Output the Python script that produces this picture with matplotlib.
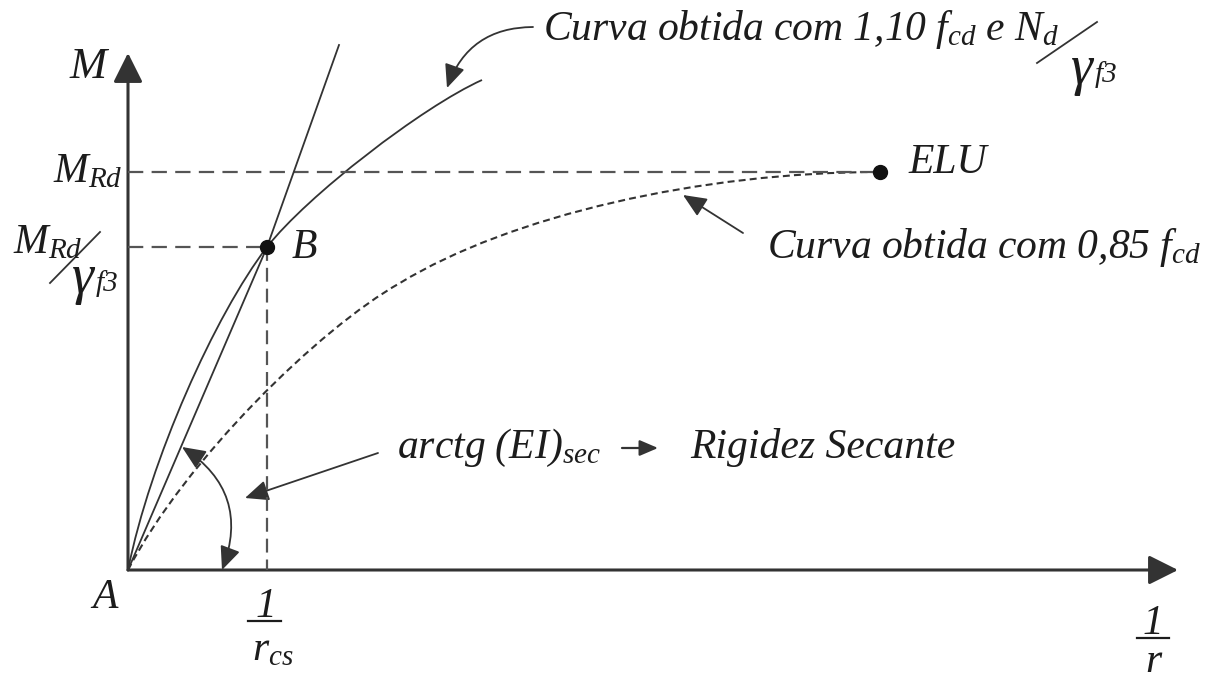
import matplotlib.pyplot as plt
from matplotlib.path import Path
from matplotlib.patches import PathPatch, FancyArrowPatch

# sketch coordinates (pixels, y grows downward)
origin = (128, 570)
x_axis_tip = 1178
y_axis_tip = 53
point_B = (267, 247)
point_ELU = (880, 172)
secant_line = [(128, 570), (267, 247), (339, 45)]

# Bezier control points: start, c1, c2, end, c1, c2, end
curve_110 = [(128, 570), (150, 460), (215, 315), (267, 247),
             (307, 196), (422, 107), (482, 80)]
curve_085 = [(128, 570), (185, 460), (320, 328), (400, 283),
             (510, 216), (700, 172), (880, 172)]

INK = '#1c1c1c'
LINE = '#333333'
GREY = '#555555'

plt.rcParams['mathtext.fontset'] = 'custom'
plt.rcParams['mathtext.it'] = 'Liberation Serif:italic'
plt.rcParams['mathtext.rm'] = 'Liberation Serif:italic'
plt.rcParams['mathtext.bf'] = 'Liberation Serif:bold:italic'
plt.rcParams['lines.scale_dashes'] = False

fig = plt.figure(figsize=(12.15, 6.82), dpi=100)
ax = fig.add_axes([0, 0, 1, 1])
ax.set_xlim(0, 1215)
ax.set_ylim(682, 0)
ax.axis('off')


def bezier(points, **kw):
    codes = [Path.MOVETO] + [Path.CURVE4] * (len(points) - 1)
    ax.add_patch(PathPatch(Path(points, codes), fill=False, **kw))


def arrow(p0, p1, style='-|>', rad=0.0, lw=1.3, scale=18):
    ax.add_patch(FancyArrowPatch(p0, p1, arrowstyle=style,
                                 connectionstyle=f'arc3,rad={rad}',
                                 mutation_scale=scale, lw=lw, color=LINE,
                                 shrinkA=0, shrinkB=0))


def label(x, y, s, size=30, ha='left', va='baseline'):
    ax.text(x, y, s, fontsize=size, family='Liberation Serif', style='italic',
            ha=ha, va=va, color=INK)


def gamma_f3(x, y):
    label(x, y, 'γ', size=40)
    label(x + 24, y - 2, 'f3', size=21)


# axes with arrow heads
ax0, ay0 = origin
arrow((ax0, ay0), (x_axis_tip, ay0), style='-|>,head_length=0.9,head_width=0.45',
      lw=2.2, scale=20)
arrow((ax0, ay0), (ax0, y_axis_tip), style='-|>,head_length=0.9,head_width=0.45',
      lw=2.2, scale=20)

# reference dashed lines
ax.plot([ax0, point_ELU[0]], [point_ELU[1], point_ELU[1]], color=GREY, lw=1.6,
        dashes=(11, 6))
ax.plot([ax0, point_B[0]], [point_B[1], point_B[1]], color=GREY, lw=1.6,
        dashes=(11, 6))
ax.plot([point_B[0], point_B[0]], [point_B[1], ay0], color=GREY, lw=1.6,
        dashes=(10, 5))

# curves
bezier(curve_110, color=LINE, lw=1.3)
bezier(curve_085, color=LINE, lw=1.5, linestyle=(0, (5, 3)))
sx, sy = zip(*secant_line)
ax.plot(sx, sy, color=LINE, lw=1.3)

# points
ax.plot(*point_B, 'o', color='#111111', ms=10)
ax.plot(*point_ELU, 'o', color='#111111', ms=10)

# annotation arrows
head = '-|>,head_length=0.8,head_width=0.35'
arrow((533, 27), (447, 88), style=head, rad=0.35)
arrow((743, 233), (683, 195), style=head)
arrow((378, 453), (245, 498), style=head)
arrow((182, 447), (222, 570), style='<|-|>,head_length=0.8,head_width=0.35',
      rad=-0.4)
arrow((622, 448), (658, 448), style='-|>,head_length=0.7,head_width=0.3',
      lw=1.6, scale=16)

# labels
label(90, 78, '$M$', size=32, ha='center')
label(123, 182, '$M_{Rd}$', ha='right')
label(13, 253, '$M_{Rd}$')
ax.plot([50, 100], [283, 232], color=LINE, lw=1.3)
gamma_f3(72, 293)
label(292, 258, 'B')
label(105, 608, 'A', ha='center')
label(908, 173, 'ELU')

label(543, 40, r'$Curva\ obtida\ com\ 1{,}10\ f_{cd}\ e\ N_d$')
ax.plot([1037, 1097], [63, 22], color=LINE, lw=1.3)
gamma_f3(1071, 84)
label(767, 258, r'$Curva\ obtida\ com\ 0{,}85\ f_{cd}$')

label(397, 458, r'$arctg\ (EI)_{sec}$')
label(690, 458, 'Rigidez Secante')

# 1/r_cs and 1/r
label(266, 617, '1', ha='center')
ax.plot([248, 281], [621, 621], color=INK, lw=1.6)
label(252, 660, '$r_{cs}$')
label(1153, 634, '1', ha='center')
ax.plot([1137, 1169], [638, 638], color=INK, lw=1.6)
label(1153, 681, 'r', ha='center', va='bottom')

fig.savefig('out.png', dpi=100)
